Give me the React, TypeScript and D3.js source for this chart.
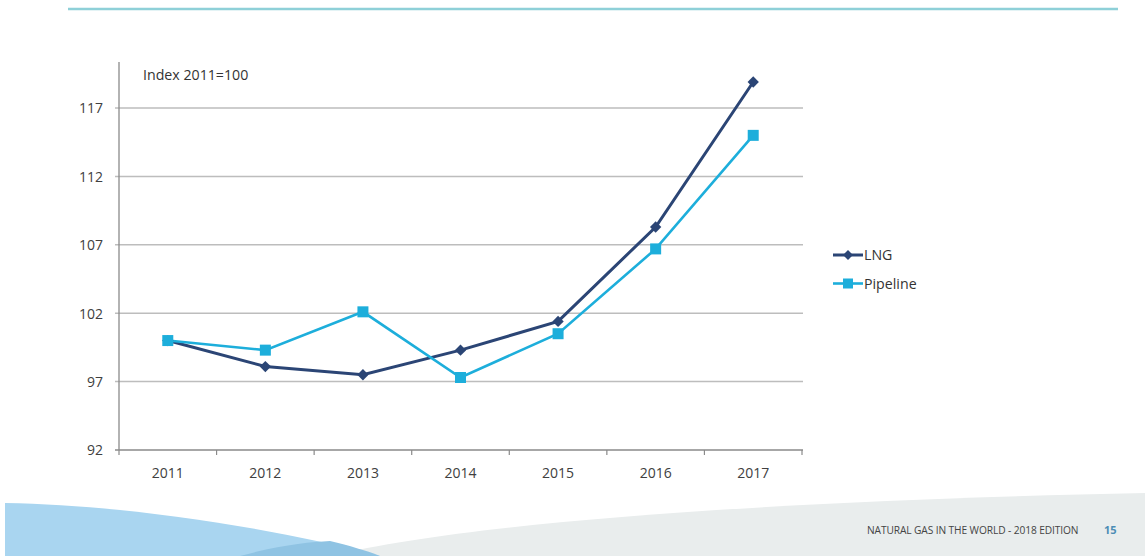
import React from "react";
import * as d3 from "d3";

const years = ["2011", "2012", "2013", "2014", "2015", "2016", "2017"];
const lng = [100, 98.1, 97.5, 99.3, 101.4, 108.3, 118.9];
const pipeline = [100, 99.3, 102.1, 97.3, 100.5, 106.7, 115.0];
const yTicks = [92, 97, 102, 107, 112, 117];
const seriesNames = ["LNG", "Pipeline"];

const W = 1145;
const H = 556;
const LNG_COLOR = "#2B4575";
const PIPE_COLOR = "#1DAEDB";
const FONT = "'Open Sans', 'Noto Sans', sans-serif";

export default function App() {
  const x = d3.scaleBand<string>().domain(years).range([119, 802]);
  const cx = (d: string) => (x(d) as number) + x.bandwidth() / 2;
  const y = d3.scaleLinear().domain([92, 117]).range([450, 108]);

  const line = d3
    .line<number>()
    .x((_, i) => cx(years[i]))
    .y((v) => y(v));

  const boundaries = years.map((d) => x(d) as number).concat([802]);

  return (
    <svg
      width={W}
      height={H}
      style={{ position: "absolute", left: 0, top: 0, background: "#fff" }}
      fontFamily={FONT}
    >
      {/* background waves */}
      <path
        d="M 330 556 C 480 520, 800 500, 1145 493 L 1145 556 Z"
        fill="#E9EDED"
      />
      <path
        d="M 5 503 C 120 505, 260 525, 380 556 L 5 556 Z"
        fill="#A9D5F0"
      />
      <path
        d="M 240 556 C 280 545, 310 542, 330 541 C 350 546, 365 550, 380 556 Z"
        fill="#8FC3E3"
      />
      {/* top rule */}
      <line x1={68} x2={1118} y1={9} y2={9} stroke="#8ED0D8" strokeWidth={2.5} />

      {/* gridlines */}
      {yTicks
        .filter((t) => t !== 92)
        .map((t) => (
          <line
            key={t}
            x1={115}
            x2={803}
            y1={y(t)}
            y2={y(t)}
            stroke="#BDBDBD"
            strokeWidth={1.5}
          />
        ))}
      {/* axes */}
      <line x1={119} x2={119} y1={62} y2={450} stroke="#8A8A8A" strokeWidth={1.3} />
      <line x1={115} x2={803} y1={450} y2={450} stroke="#8A8A8A" strokeWidth={1.3} />
      {boundaries.map((b, i) => (
        <line key={i} x1={b} x2={b} y1={450} y2={455} stroke="#8A8A8A" strokeWidth={1.2} />
      ))}
      {yTicks.map((t) => (
        <text
          key={t}
          x={103}
          y={y(t)}
          dy="0.38em"
          textAnchor="end"
          fontSize={14}
          fill="#404040"
        >
          {t}
        </text>
      ))}
      {years.map((d) => (
        <text
          key={d}
          x={cx(d)}
          y={478}
          textAnchor="middle"
          fontSize={14}
          fill="#404040"
        >
          {d}
        </text>
      ))}
      <text x={143} y={80} fontSize={14.2} fill="#333">
        Index 2011=100
      </text>

      {/* series */}
      <path d={line(lng) || ""} fill="none" stroke={LNG_COLOR} strokeWidth={3} />
      <path d={line(pipeline) || ""} fill="none" stroke={PIPE_COLOR} strokeWidth={2.6} />
      {lng.map((v, i) => (
        <rect
          key={"l" + i}
          x={cx(years[i]) - 4}
          y={y(v) - 4}
          width={8}
          height={8}
          fill={LNG_COLOR}
          transform={`rotate(45 ${cx(years[i])} ${y(v)})`}
        />
      ))}
      {pipeline.map((v, i) => (
        <rect
          key={"p" + i}
          x={cx(years[i]) - 5.5}
          y={y(v) - 5.5}
          width={11}
          height={11}
          fill={PIPE_COLOR}
        />
      ))}

      {/* legend */}
      {seriesNames.map((name, i) => {
        const ly = 255 + i * 28.5;
        const col = i === 0 ? LNG_COLOR : PIPE_COLOR;
        return (
          <g key={name}>
            <line x1={833} x2={863} y1={ly} y2={ly} stroke={col} strokeWidth={i === 0 ? 3 : 2.6} />
            {i === 0 ? (
              <rect
                x={848 - 3.5}
                y={ly - 3.5}
                width={7}
                height={7}
                fill={col}
                transform={`rotate(45 848 ${ly})`}
              />
            ) : (
              <rect x={848 - 5} y={ly - 5} width={10} height={10} fill={col} />
            )}
            <text x={864} y={ly} dy="0.36em" fontSize={14.2} fill="#333">
              {name}
            </text>
          </g>
        );
      })}

      {/* footer */}
      <text x={867} y={534} fontSize={10.2} fill="#444" letterSpacing={-0.1}>
        NATURAL GAS IN THE WORLD  - 2018 EDITION
      </text>
      <text x={1104} y={534} fontSize={11} fontWeight="bold" fill="#4C8DB5">
        15
      </text>
    </svg>
  );
}
